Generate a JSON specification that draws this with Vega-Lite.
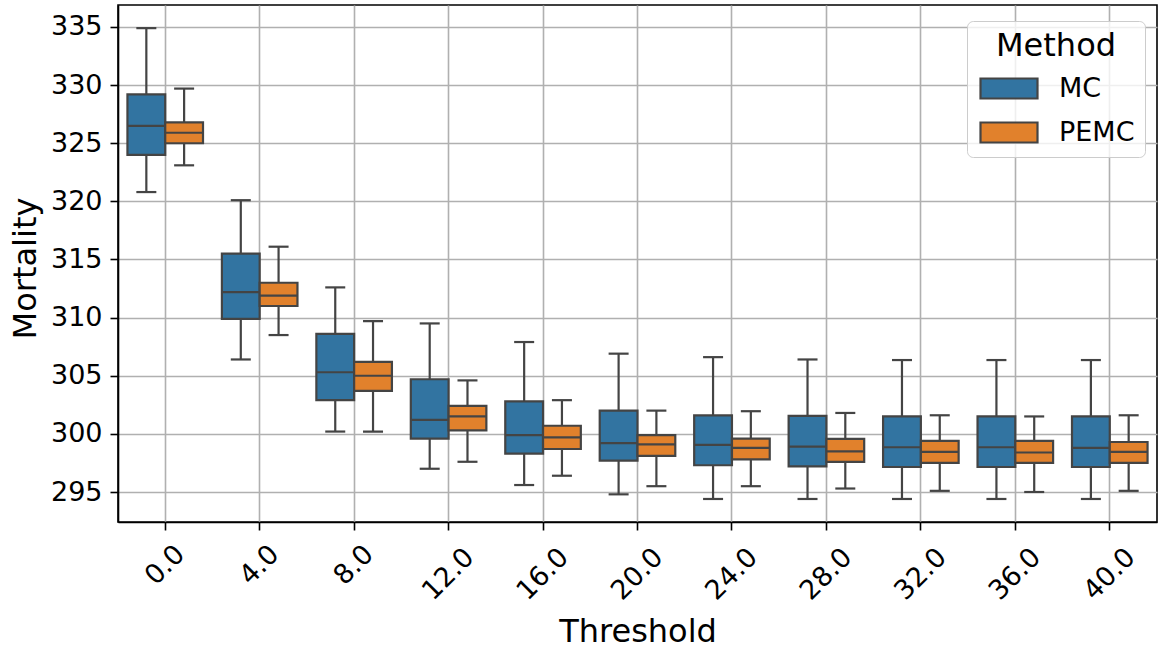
{
  "$schema": "https://vega.github.io/schema/vega-lite/v6.json",
  "width": 1039,
  "height": 517,
  "autosize": {"type": "none"},
  "padding": {"left": 118, "top": 5, "right": 7, "bottom": 126},
  "background": "white",
  "config": {
    "font": "DejaVu Sans",
    "view": {"stroke": "black", "strokeWidth": 1.6},
    "axis": {
      "gridColor": "#b0b0b0", "gridWidth": 1.6, "gridOpacity": 1,
      "domainColor": "black", "domainWidth": 1.6,
      "tickColor": "black", "tickWidth": 1.6, "tickSize": 8,
      "labelFontSize": 27, "titleFontSize": 32,
      "labelColor": "black", "titleColor": "black", "titleFontWeight": "normal"
    }
  },
  "data": {"values": [
    {"threshold": "0.0", "method": "MC", "lo": 320.8, "q1": 324.0, "med": 326.5, "q3": 329.2, "hi": 334.9},
    {"threshold": "0.0", "method": "PEMC", "lo": 323.1, "q1": 325.0, "med": 325.9, "q3": 326.8, "hi": 329.7},
    {"threshold": "4.0", "method": "MC", "lo": 306.4, "q1": 309.9, "med": 312.2, "q3": 315.5, "hi": 320.1},
    {"threshold": "4.0", "method": "PEMC", "lo": 308.5, "q1": 311.0, "med": 311.9, "q3": 313.0, "hi": 316.1},
    {"threshold": "8.0", "method": "MC", "lo": 300.2, "q1": 302.9, "med": 305.3, "q3": 308.6, "hi": 312.6},
    {"threshold": "8.0", "method": "PEMC", "lo": 300.2, "q1": 303.7, "med": 305.0, "q3": 306.2, "hi": 309.7},
    {"threshold": "12.0", "method": "MC", "lo": 297.0, "q1": 299.6, "med": 301.2, "q3": 304.7, "hi": 309.5},
    {"threshold": "12.0", "method": "PEMC", "lo": 297.6, "q1": 300.3, "med": 301.5, "q3": 302.4, "hi": 304.6},
    {"threshold": "16.0", "method": "MC", "lo": 295.6, "q1": 298.3, "med": 299.9, "q3": 302.8, "hi": 307.9},
    {"threshold": "16.0", "method": "PEMC", "lo": 296.4, "q1": 298.7, "med": 299.7, "q3": 300.7, "hi": 302.9},
    {"threshold": "20.0", "method": "MC", "lo": 294.8, "q1": 297.7, "med": 299.2, "q3": 302.0, "hi": 306.9},
    {"threshold": "20.0", "method": "PEMC", "lo": 295.5, "q1": 298.1, "med": 299.1, "q3": 299.9, "hi": 302.0},
    {"threshold": "24.0", "method": "MC", "lo": 294.4, "q1": 297.3, "med": 299.05, "q3": 301.6, "hi": 306.6},
    {"threshold": "24.0", "method": "PEMC", "lo": 295.5, "q1": 297.8, "med": 298.8, "q3": 299.6, "hi": 301.95},
    {"threshold": "28.0", "method": "MC", "lo": 294.4, "q1": 297.2, "med": 298.9, "q3": 301.55, "hi": 306.4},
    {"threshold": "28.0", "method": "PEMC", "lo": 295.3, "q1": 297.6, "med": 298.5, "q3": 299.57, "hi": 301.8},
    {"threshold": "32.0", "method": "MC", "lo": 294.4, "q1": 297.15, "med": 298.85, "q3": 301.5, "hi": 306.35},
    {"threshold": "32.0", "method": "PEMC", "lo": 295.1, "q1": 297.5, "med": 298.45, "q3": 299.4, "hi": 301.6},
    {"threshold": "36.0", "method": "MC", "lo": 294.4, "q1": 297.15, "med": 298.85, "q3": 301.5, "hi": 306.35},
    {"threshold": "36.0", "method": "PEMC", "lo": 295.0, "q1": 297.5, "med": 298.4, "q3": 299.4, "hi": 301.5},
    {"threshold": "40.0", "method": "MC", "lo": 294.4, "q1": 297.15, "med": 298.8, "q3": 301.5, "hi": 306.35},
    {"threshold": "40.0", "method": "PEMC", "lo": 295.1, "q1": 297.5, "med": 298.45, "q3": 299.3, "hi": 301.6}
  ]},
  "encoding": {
    "x": {
      "field": "threshold", "type": "nominal",
      "sort": ["0.0", "4.0", "8.0", "12.0", "16.0", "20.0", "24.0", "28.0", "32.0", "36.0", "40.0"],
      "scale": {"paddingInner": 0.2, "paddingOuter": 0.1},
      "axis": {
        "title": "Threshold", "grid": true,
        "labelAngle": -45, "labelAlign": "center", "labelBaseline": "middle",
        "labelPadding": {"condition": {"test": "length(datum.label) == 3", "value": 35}, "value": 44},
        "titleBaseline": "alphabetic", "titleX": 519.5, "titleY": 119
      }
    },
    "xOffset": {"field": "method", "type": "nominal", "sort": ["MC", "PEMC"]}
  },
  "layer": [
    {
      "mark": {"type": "rule", "color": "#444444", "strokeWidth": 2.2},
      "encoding": {
        "y": {
          "field": "lo", "type": "quantitative", "title": "Mortality",
          "scale": {"domain": [292.42, 336.89], "nice": false, "zero": false},
          "axis": {
            "values": [295, 300, 305, 310, 315, 320, 325, 330, 335],
            "labelPadding": 8, "grid": true,
            "titleBaseline": "alphabetic", "titleX": -83, "titleY": 263
          }
        },
        "y2": {"field": "hi"}
      }
    },
    {
      "mark": {"type": "bar", "stroke": "#444444", "strokeWidth": 2.2},
      "encoding": {
        "y": {"field": "q1", "type": "quantitative", "title": "Mortality"},
        "y2": {"field": "q3"},
        "fill": {
          "field": "method", "type": "nominal",
          "scale": {"domain": ["MC", "PEMC"], "range": ["#3274a1", "#e1812c"]},
          "legend": {
            "title": "Method", "orient": "none", "legendX": 849, "legendY": 16,
            "padding": 10, "rowPadding": 15, "titlePadding": 12,
            "titleFontSize": 32, "titleFontWeight": "normal", "titleAnchor": "middle", "titleColor": "black",
            "labelFontSize": 27, "labelColor": "black", "labelOffset": 55,
            "symbolType": "M-1,-1H4.7V1H-1Z", "symbolSize": 400,
            "symbolStrokeColor": "#444444", "symbolStrokeWidth": 2.2, "symbolOpacity": 1,
            "fillColor": "rgba(255,255,255,0.8)", "strokeColor": "#cccccc", "cornerRadius": 6
          }
        }
      }
    },
    {
      "mark": {"type": "tick", "color": "#444444", "thickness": 2.2, "size": 38, "orient": "horizontal", "opacity": 1},
      "encoding": {"y": {"field": "med", "type": "quantitative", "title": "Mortality"}}
    },
    {
      "mark": {"type": "tick", "color": "#444444", "thickness": 2.2, "size": 20, "orient": "horizontal", "opacity": 1},
      "encoding": {"y": {"field": "lo", "type": "quantitative", "title": "Mortality"}}
    },
    {
      "mark": {"type": "tick", "color": "#444444", "thickness": 2.2, "size": 20, "orient": "horizontal", "opacity": 1},
      "encoding": {"y": {"field": "hi", "type": "quantitative", "title": "Mortality"}}
    }
  ]
}
